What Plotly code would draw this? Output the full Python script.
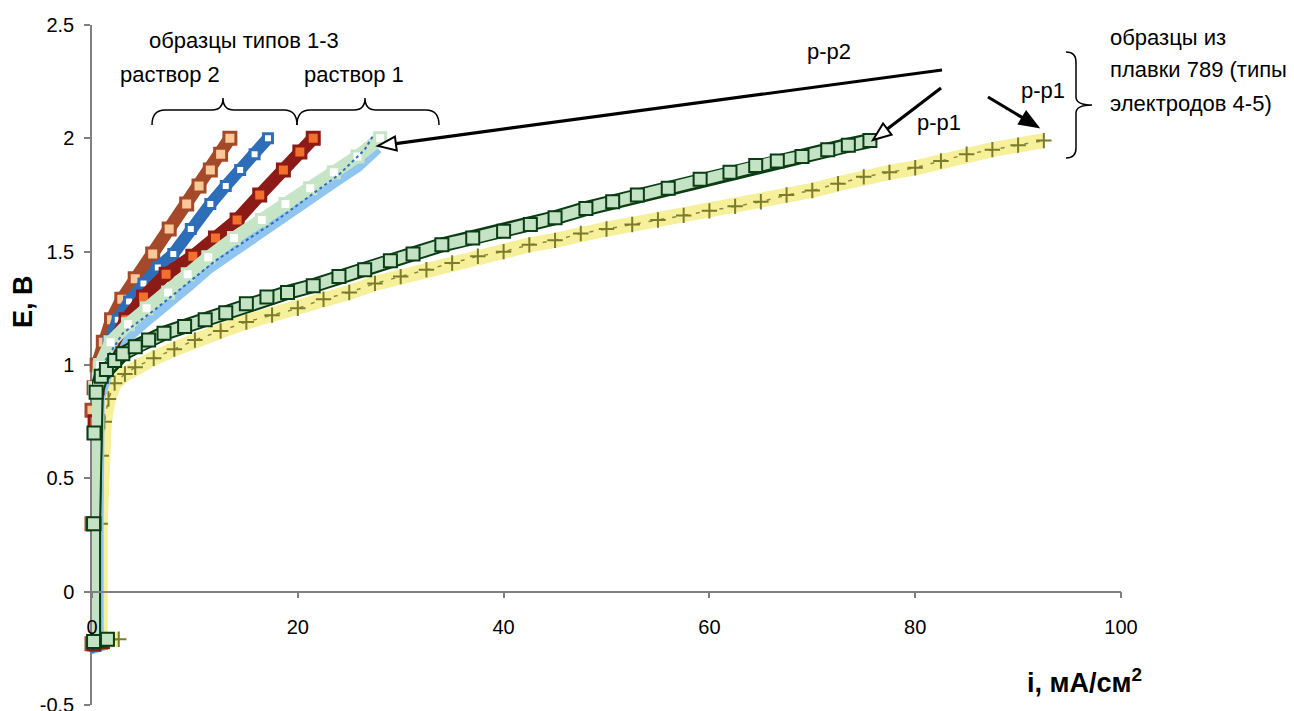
import plotly.graph_objects as go

# ---------------- data ----------------
x_tickvals = [0, 20, 40, 60, 80, 100]
x_ticktext = ["0", "20", "40", "60", "80", "100"]
y_tickvals = [-0.5, 0, 0.5, 1, 1.5, 2, 2.5]
y_ticktext = ["-0.5", "0", "0.5", "1", "1.5", "2", "2.5"]

# раствор 2 (brown)
i_brown = [1.0, 0.0, 0.0, 0.0, 0.2, 0.5, 1.1, 1.9, 2.9, 4.2, 5.9, 7.5, 9.2, 10.4, 11.5, 12.5, 13.4]
E_brown = [-0.22, -0.23, 0.3, 0.8, 0.9, 1.0, 1.1, 1.2, 1.29, 1.38, 1.49, 1.6, 1.71, 1.79, 1.86, 1.93, 2.0]

# раствор 2 (blue)
i_blue = [1.0, 0.3, 0.3, 0.4, 0.5, 0.9, 1.6, 2.5, 3.6, 5.0, 6.4, 7.9, 9.6, 11.5, 13.0, 14.4, 15.8, 17.1]
E_blue = [-0.23, -0.24, 0.3, 0.75, 0.9, 1.0, 1.1, 1.2, 1.28, 1.36, 1.43, 1.49, 1.6, 1.71, 1.79, 1.86, 1.93, 2.0]

# раствор 1 (dark red)
i_red = [1.0, 0.2, 0.2, 0.3, 0.5, 1.0, 2.0, 3.3, 5.0, 7.2, 9.8, 12.0, 14.1, 16.3, 18.6, 20.2, 21.5]
E_red = [-0.22, -0.23, 0.3, 0.75, 0.9, 1.0, 1.1, 1.2, 1.3, 1.4, 1.48, 1.56, 1.64, 1.75, 1.86, 1.94, 2.0]

# раствор 1 (light blue)
i_lblue = [1.2, 0.5, 0.5, 0.6, 1.5, 3.5, 5.3, 7.4, 9.3, 11.3, 13.8, 16.5, 18.8, 21.2, 23.5, 25.8, 27.7]
E_lblue = [-0.23, -0.24, 0.3, 0.85, 0.98, 1.13, 1.2, 1.27, 1.35, 1.43, 1.51, 1.6, 1.67, 1.74, 1.81, 1.88, 1.96]

# раствор 1 (blue dotted)
i_bdot = [1.0, 3.0, 6.0, 9.0, 12.0, 15.0, 18.0, 21.0, 24.0, 26.5, 27.3]
E_bdot = [1.0, 1.14, 1.24, 1.35, 1.46, 1.55, 1.64, 1.74, 1.84, 1.95, 2.01]

# раствор 1 (light green, white markers)
i_lgreen = [1.5, 0.1, 0.1, 0.1, 0.3, 0.8, 1.8, 3.5, 5.3, 7.4, 9.3, 11.3, 13.8, 16.5, 18.8, 21.2, 23.5, 25.8, 28.0]
E_lgreen = [-0.21, -0.22, 0.3, 0.7, 0.9, 1.0, 1.1, 1.18, 1.25, 1.32, 1.4, 1.475, 1.56, 1.64, 1.71, 1.78, 1.85, 1.92, 2.0]

# плавка 789, р-р2 (dark green squares)
i_dgreen = [1.5, 0.15, 0.15, 0.2, 0.4, 0.9, 1.4, 2.2, 3.0, 4.2, 5.5, 7.0, 9.0, 11.0, 13.0, 15.0, 17.0,
            19.0, 21.5, 24.0, 26.5, 29.0, 31.2, 34.0, 37.0, 40.0, 42.6, 45.0, 48.0, 50.6, 53.0, 56.0,
            59.1, 62.0, 64.5, 66.6, 69.0, 71.5, 73.5, 75.6]
E_dgreen = [-0.21, -0.22, 0.3, 0.7, 0.88, 0.95, 0.98, 1.02, 1.05, 1.08, 1.11, 1.14, 1.17, 1.2, 1.23, 1.27, 1.3,
            1.32, 1.35, 1.39, 1.42, 1.46, 1.49, 1.53, 1.56, 1.59, 1.62, 1.65, 1.69, 1.72, 1.75, 1.78,
            1.82, 1.85, 1.88, 1.9, 1.92, 1.95, 1.97, 1.99]

# плавка 789, р-р1 (yellow with crosses)
i_yellow = [2.6, 0.8, 0.8, 0.9, 1.2, 1.6, 2.2, 3.2, 4.2, 6.0, 8.0, 10.0, 12.5, 15.0, 17.5, 20.0, 22.5, 25.0,
            27.5, 30.0, 32.5, 35.0, 37.5, 40.0, 42.5, 45.0, 47.5, 50.0, 52.5, 55.0, 57.5, 60.0, 62.5, 65.0,
            67.5, 70.0, 72.5, 75.0, 77.5, 80.0, 82.5, 85.0, 87.5, 90.0, 92.5]
E_yellow = [-0.21, -0.22, 0.3, 0.6, 0.75, 0.85, 0.92, 0.96, 0.99, 1.03, 1.07, 1.11, 1.15, 1.19, 1.22, 1.25, 1.29, 1.32,
            1.36, 1.39, 1.42, 1.45, 1.48, 1.5, 1.53, 1.55, 1.58, 1.6, 1.62, 1.64, 1.66, 1.68, 1.7, 1.72,
            1.75, 1.77, 1.8, 1.83, 1.85, 1.87, 1.9, 1.93, 1.95, 1.97, 1.99]

# ---------------- layout geometry ----------------
OFF = 8                      # page body margin of the html page
W, H = 1294 - OFF, 711
SX0, SY0, SX1, SY1 = 92, 25, 1121, 705   # plot area on screen
ML, MT = SX0 - OFF, SY0 - OFF
PW, PH = SX1 - SX0, SY1 - SY0
MR, MB = W - ML - PW, H - MT - PH
FONT = "Liberation Sans, Arial, sans-serif"


def P(px, py):
    """screen pixel position -> paper coordinates"""
    return (px - SX0) / PW, (SY1 - py) / PH


fig = go.Figure()


def band(x, y, color, width, dash=None):
    fig.add_trace(go.Scatter(x=x, y=y, mode="lines", cliponaxis=False, hoverinfo="skip",
                             line=dict(color=color, width=width, dash=dash), showlegend=False))


def marks(x, y, symbol, size, fill, lcolor, lwidth):
    fig.add_trace(go.Scatter(x=x, y=y, mode="markers", cliponaxis=False, hoverinfo="skip",
                             marker=dict(symbol=symbol, size=size, color=fill,
                                         line=dict(color=lcolor, width=lwidth)),
                             showlegend=False))


# yellow
band(i_yellow, E_yellow, "#F6F09A", 15)
band(i_yellow, E_yellow, "#8A8A40", 1.5, dash="4px,8px")
marks(i_yellow, E_yellow, "cross-thin", 11, "#7B7B2A", "#7B7B2A", 2)
# light blue
band(i_lblue, E_lblue, "#8FC5EE", 13)
# brown
band(i_brown, E_brown, "#A4492A", 13)
marks(i_brown, E_brown, "square", 12, "#FDC896", "#A4492A", 3)
# blue
band(i_blue, E_blue, "#2E6DB8", 12)
marks(i_blue, E_blue, "square", 9, "#FFFFFF", "#2E6DB8", 3)
# dark red
band(i_red, E_red, "#8C1B17", 13)
marks(i_red, E_red, "square", 12, "#F36F2C", "#8C1B17", 3)
# light green
band(i_lgreen, E_lgreen, "#C6E4C6", 13)
marks(i_lgreen, E_lgreen, "square", 11, "#FFFFFF", "#C6E4C6", 3)
# blue dotted
band(i_bdot, E_bdot, "#2E6DB8", 2, dash="dot")
# dark green
band(i_dgreen, E_dgreen, "#0A3D14", 15)
band(i_dgreen, E_dgreen, "#C4E2C4", 11)
marks(i_dgreen, E_dgreen, "square", 13, "#C4E2C4", "#0A3D14", 2)

# ---------------- decorations ----------------
shapes = []


def path_from(points, close=False):
    s = ""
    for cmd, pts in points:
        s += cmd + " " + " ".join("%.5f,%.5f" % P(*p) for p in pts) + " "
    if close:
        s += "Z"
    return s


def brace_h(x0, x1, xm, ytop, ybar, yend):
    return path_from([("M", [(x0, yend)]), ("Q", [(x0, ybar), (x0 + 13, ybar)]),
                      ("L", [(xm - 11, ybar)]), ("Q", [(xm, ybar), (xm, ytop)]),
                      ("Q", [(xm, ybar), (xm + 11, ybar)]), ("L", [(x1 - 13, ybar)]),
                      ("Q", [(x1, ybar), (x1, yend)])])


shapes.append(dict(type="path", xref="paper", yref="paper", path=brace_h(152, 297, 223, 98, 110, 125),
                   line=dict(color="black", width=1.5)))
shapes.append(dict(type="path", xref="paper", yref="paper", path=brace_h(297, 439, 365, 98, 110, 125),
                   line=dict(color="black", width=1.5)))
# right vertical brace
shapes.append(dict(type="path", xref="paper", yref="paper",
                   path=path_from([("M", [(1066, 52)]), ("Q", [(1076, 52), (1076, 62)]),
                                   ("L", [(1076, 97)]), ("Q", [(1076, 105), (1092, 105)]),
                                   ("Q", [(1076, 105), (1076, 113)]), ("L", [(1076, 148)]),
                                   ("Q", [(1076, 158), (1066, 158)])]),
                   line=dict(color="black", width=1.5)))


def arrow(tail, tip, filled, L=18, w=7, lw=3.2):
    dx, dy = tip[0] - tail[0], tip[1] - tail[1]
    n = (dx * dx + dy * dy) ** 0.5
    ux, uy = dx / n, dy / n
    bx, by = tip[0] - ux * L, tip[1] - uy * L
    nx, ny = -uy, ux
    c1 = (bx + nx * w, by + ny * w)
    c2 = (bx - nx * w, by - ny * w)
    x0, y0 = P(*tail)
    x1, y1 = P(bx, by)
    shapes.append(dict(type="line", xref="paper", yref="paper", x0=x0, y0=y0, x1=x1, y1=y1,
                       line=dict(color="black", width=lw)))
    shapes.append(dict(type="path", xref="paper", yref="paper",
                       path=path_from([("M", [tip]), ("L", [c1]), ("L", [c2])], close=True),
                       fillcolor="black" if filled else "white", line=dict(color="black", width=2)))


arrow((942, 70), (378, 146), False)
arrow((941, 88), (873, 140), False)
arrow((988, 97), (1038, 127), True)

annotations = []


def text(t, px, py, size=22, xanchor="left", bold=False, angle=0):
    x, y = P(px, py)
    annotations.append(dict(text=("<b>%s</b>" % t) if bold else t, x=x, y=y, xref="paper", yref="paper",
                            xanchor=xanchor, yanchor="middle", showarrow=False, textangle=angle,
                            font=dict(family=FONT, size=size, color="black")))


text("образцы типов 1-3", 147, 40)
text("раствор 2", 118, 75)
text("раствор 1", 302, 75)
text("р-р2", 829, 52, xanchor="center")
text("р-р1", 915, 122)
text("р-р1", 1019, 90)
text("образцы из", 1108, 37)
text("плавки 789 (типы", 1108, 70)
text("электродов 4-5)", 1108, 103)
text("E, В", 23, 302, size=27, xanchor="center", bold=True, angle=-90)
text("i, мА/см<sup>2</sup>", 1084, 681, size=27, xanchor="center", bold=True)

fig.update_layout(
    width=W, height=H, margin=dict(l=ML, r=MR, t=MT, b=MB, autoexpand=False),
    paper_bgcolor="white", plot_bgcolor="white", showlegend=False,
    font=dict(family=FONT, size=20, color="black"),
    shapes=shapes, annotations=annotations,
    xaxis=dict(range=[0, 100], tickvals=x_tickvals, ticktext=x_ticktext, showgrid=False, zeroline=False,
               showline=True, linecolor="#808080", linewidth=1.5, ticks="outside", ticklen=6,
               tickcolor="#808080", tickwidth=1.5, anchor="free", position=0.5 / 3.0,
               ticklabelstandoff=12, layer="above traces", automargin=False,
               tickfont=dict(family=FONT, size=20, color="black")),
    yaxis=dict(range=[-0.5, 2.5], tickvals=y_tickvals, ticktext=y_ticktext, showgrid=False, zeroline=False,
               showline=True, linecolor="#808080", linewidth=1.5, ticks="outside", ticklen=6,
               tickcolor="#808080", tickwidth=1.5, ticklabelstandoff=6, layer="below traces",
               automargin=False, tickfont=dict(family=FONT, size=20, color="black")),
)

fig.write_html("out.html")
